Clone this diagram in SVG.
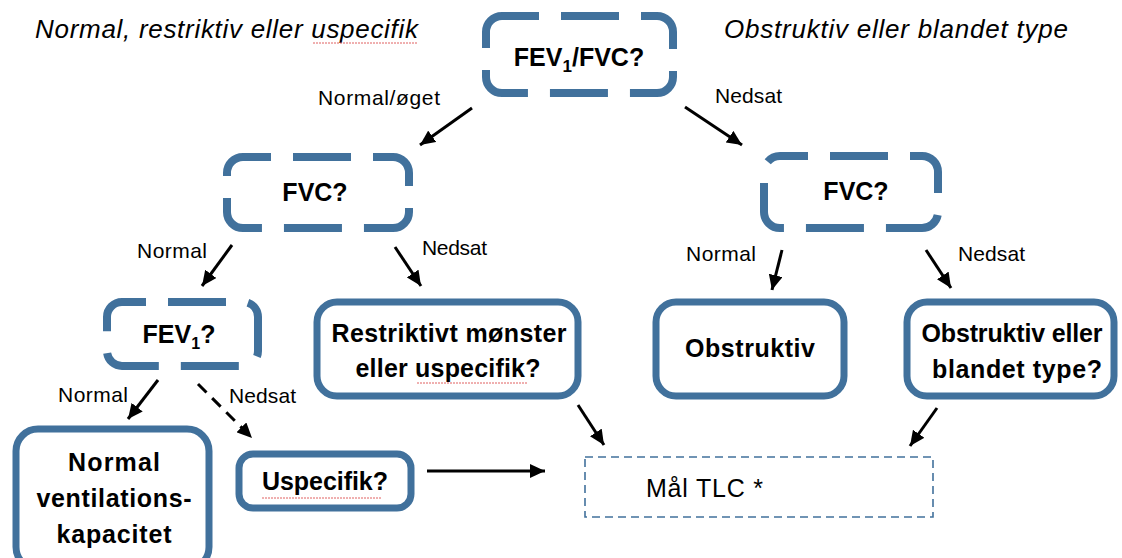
<svg xmlns="http://www.w3.org/2000/svg" width="1122" height="558" viewBox="0 0 1122 558">
<defs>
<style>
.dbox{fill:#fff;stroke:#41719C;stroke-width:8;stroke-dasharray:58 22}
.sbox{fill:#fff;stroke:#41719C;stroke-width:7}
.tbox{fill:#fff;stroke:#41719C;stroke-width:1.6;stroke-dasharray:8 5}
.b{font-family:"Liberation Sans",Arial,sans-serif;font-weight:bold;font-size:25px;fill:#000;text-anchor:middle}
.l{font-family:"Liberation Sans",Arial,sans-serif;font-size:21px;fill:#000}
.h{font-family:"Liberation Sans",Arial,sans-serif;font-style:italic;font-size:26px;fill:#000}
.m{font-family:"Liberation Sans",Arial,sans-serif;font-size:25px;fill:#000}
.a{stroke:#000;stroke-width:3;fill:none;marker-end:url(#ah)}
.sq{stroke:#e06060;stroke-width:1;fill:none;stroke-dasharray:2 1}
</style>
<marker id="ah" markerUnits="userSpaceOnUse" markerWidth="16" markerHeight="14" refX="15" refY="7" orient="auto">
<path d="M0,0 L15,7 L0,14 Z" fill="#000"/>
</marker>
</defs>

<text class="h" x="35" y="38" textLength="383">Normal, restriktiv eller uspecifik</text>
<path class="sq" d="M313,43 L418,43"/>
<text class="h" x="724" y="38" textLength="344">Obstruktiv eller blandet type</text>

<g id="n-fev1fvc">
<rect class="dbox" x="486" y="16" width="187" height="77" rx="16" stroke-dashoffset="21"/>
<text class="b" x="579" y="66" font-size="27">FEV<tspan font-size="17" dy="6">1</tspan><tspan dy="-6">/FVC?</tspan></text>
</g>

<g id="n-fvc-left">
<rect class="dbox" x="227" y="157" width="182" height="71" rx="16" stroke-dashoffset="30"/>
<text class="b" x="315" y="201">FVC?</text>
</g>

<g id="n-fvc-right">
<rect class="dbox" x="764" y="156" width="174" height="72" rx="16" stroke-dashoffset="30"/>
<text class="b" x="856" y="200">FVC?</text>
</g>

<g id="n-fev1">
<rect class="dbox" x="107" y="302" width="151" height="64" rx="15" stroke-dashoffset="34"/>
<text class="b" x="179" y="343">FEV<tspan font-size="16" dy="6">1</tspan><tspan dy="-6">?</tspan></text>
</g>

<g id="n-normal">
<rect class="sbox" x="16" y="429" width="193" height="140" rx="22"/>
<text class="b" x="114" y="471" textLength="92">Normal</text>
<text class="b" x="114" y="507" textLength="155">ventilations-</text>
<text class="b" x="114" y="543" textLength="115">kapacitet</text>
</g>

<g id="n-uspecifik">
<rect class="sbox" x="239" y="454" width="172" height="54" rx="14"/>
<text class="b" x="325" y="490" textLength="126">Uspecifik?</text>
<path class="sq" d="M262,498 L382,498"/>
</g>

<g id="n-restriktiv">
<rect class="sbox" x="317" y="302" width="261" height="94" rx="20"/>
<text class="b" x="449" y="342" textLength="235">Restriktivt mønster</text>
<text class="b" x="448" y="377" textLength="185">eller uspecifik?</text>
<path class="sq" d="M417,383 L528,383"/>
</g>

<g id="n-obstruktiv">
<rect class="sbox" x="656" y="302" width="188" height="94" rx="20"/>
<text class="b" x="750" y="357" textLength="130">Obstruktiv</text>
</g>

<g id="n-blandet">
<rect class="sbox" x="907" y="302" width="207" height="94" rx="20"/>
<text class="b" x="1012" y="342" textLength="181">Obstruktiv eller</text>
<text class="b" x="1017" y="378" textLength="170">blandet type?</text>
</g>

<g id="n-tlc">
<rect class="tbox" x="585" y="457" width="348" height="60"/>
<text class="m" x="646" y="497" textLength="117">Mål TLC *</text>
</g>

<g id="connectors">
<line class="a" x1="472" y1="108" x2="420" y2="145"/>
<line class="a" x1="685" y1="107" x2="742" y2="145"/>
<line class="a" x1="232" y1="245" x2="202" y2="286"/>
<line class="a" x1="395" y1="247" x2="421" y2="286"/>
<line class="a" x1="782" y1="250" x2="772" y2="290"/>
<line class="a" x1="926" y1="250" x2="951" y2="288"/>
<line class="a" x1="158" y1="380" x2="128" y2="419"/>
<line class="a" x1="198" y1="384" x2="252" y2="438" stroke-dasharray="12 8"/>
<line class="a" x1="578" y1="405" x2="604" y2="445"/>
<line class="a" x1="937" y1="408" x2="910" y2="446"/>
<line class="a" x1="427" y1="471" x2="545" y2="471"/>
</g>

<g id="labels">
<text class="l" x="318" y="105" textLength="122">Normal/øget</text>
<text class="l" x="715" y="103" textLength="67">Nedsat</text>
<text class="l" x="137" y="258" textLength="70">Normal</text>
<text class="l" x="422" y="255" textLength="65">Nedsat</text>
<text class="l" x="686" y="261" textLength="70">Normal</text>
<text class="l" x="958" y="261" textLength="67">Nedsat</text>
<text class="l" x="58" y="402" textLength="70">Normal</text>
<text class="l" x="229" y="403" textLength="67">Nedsat</text>
</g>
</svg>
